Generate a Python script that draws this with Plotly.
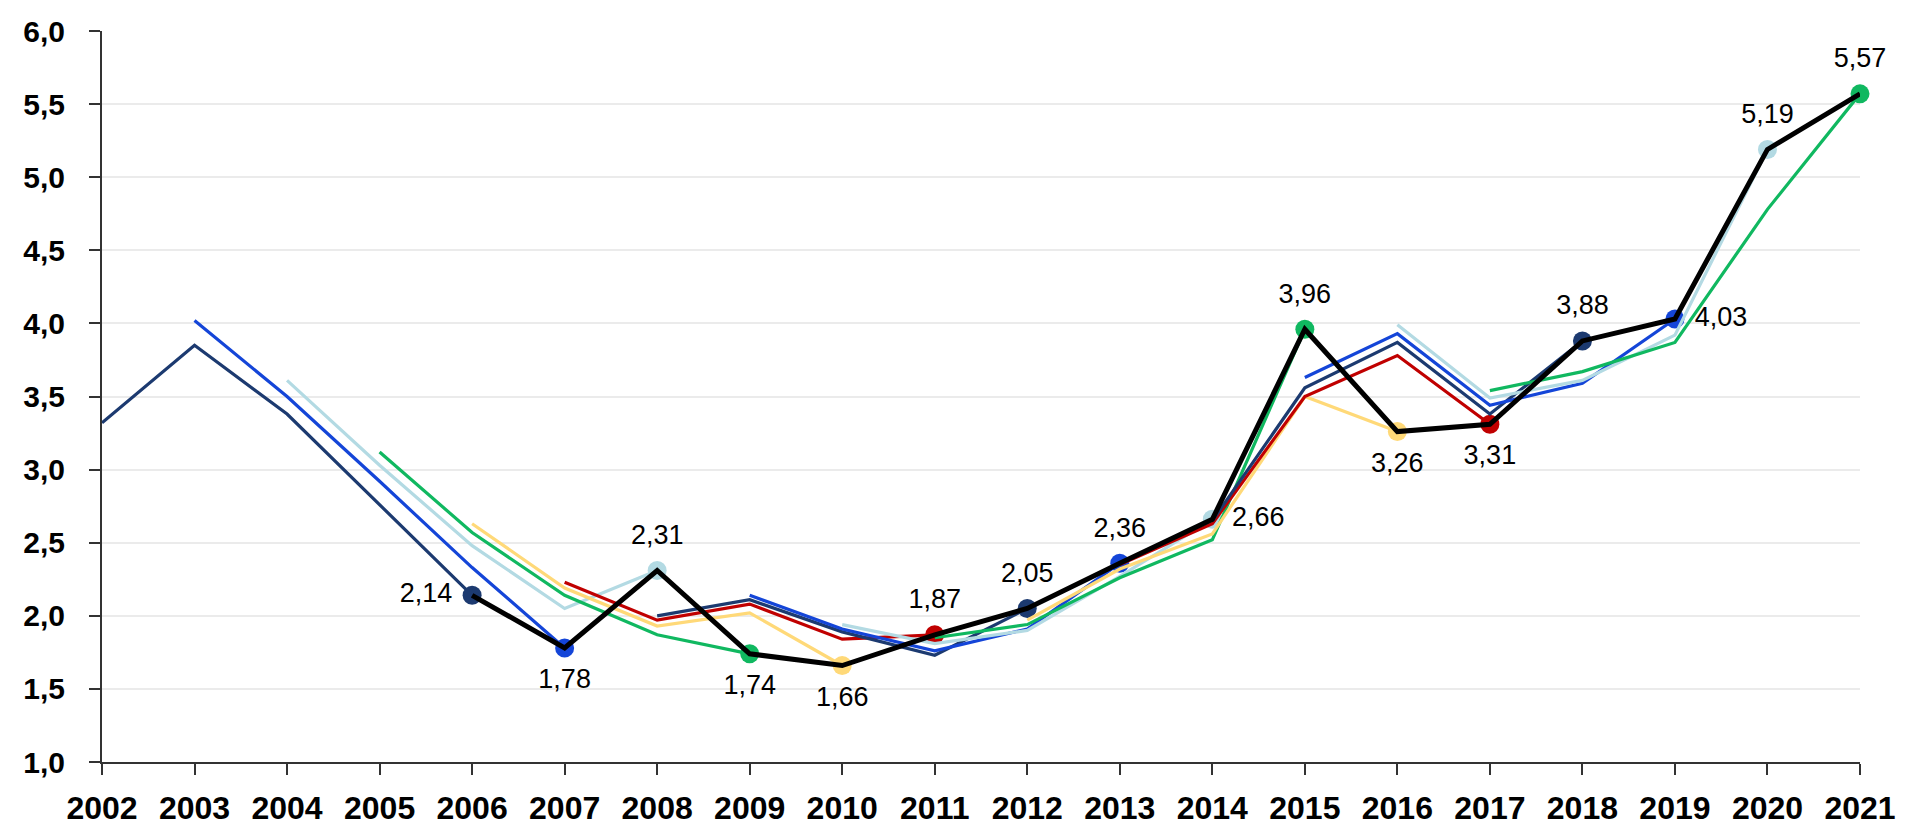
import plotly.graph_objects as go

years = list(range(2002, 2022))

# actual values (black line), 2006-2021
actual_years = list(range(2006, 2022))
actual = [2.14, 1.78, 2.31, 1.74, 1.66, 1.87, 2.05, 2.36,
          2.66, 3.96, 3.26, 3.31, 3.88, 4.03, 5.19, 5.57]

# forecast paths, each one covers the 4 years before the target year
fc_2006 = [3.32, 3.85, 3.38, 2.76, 2.14]
fc_2007 = [4.02, 3.50, 2.92, 2.33, 1.78]
fc_2008 = [3.61, 3.03, 2.48, 2.05, 2.31]
fc_2009 = [3.12, 2.57, 2.14, 1.87, 1.74]
fc_2010 = [2.63, 2.19, 1.93, 2.02, 1.66]
fc_2011 = [2.23, 1.97, 2.08, 1.84, 1.87]
fc_2012 = [2.00, 2.11, 1.89, 1.73, 2.05]
fc_2013 = [2.14, 1.91, 1.76, 1.91, 2.36]
fc_2014 = [1.94, 1.81, 1.90, 2.27, 2.66]
fc_2015 = [1.85, 1.94, 2.26, 2.52, 3.96]
fc_2016 = [1.97, 2.32, 2.56, 3.50, 3.26]
fc_2017 = [2.35, 2.63, 3.50, 3.78, 3.31]
fc_2018 = [2.65, 3.56, 3.87, 3.38, 3.88]
fc_2019 = [3.63, 3.93, 3.44, 3.59, 4.03]
fc_2020 = [3.99, 3.49, 3.61, 3.92, 5.19]
fc_2021 = [3.54, 3.67, 3.87, 4.78, 5.57]

forecasts = [fc_2006, fc_2007, fc_2008, fc_2009, fc_2010, fc_2011, fc_2012, fc_2013,
             fc_2014, fc_2015, fc_2016, fc_2017, fc_2018, fc_2019, fc_2020, fc_2021]

colors = ["#1C3A70", "#1445D8", "#B3DAE3", "#10B860", "#FFD978", "#C00000"]
label_pos = ["middle left", "bottom center", "top center", "bottom center",
             "bottom center", "top center", "top center", "top center",
             "middle right", "top center", "bottom center", "bottom center",
             "top center", "middle right", "top center", "top center"]

FONT = "Liberation Sans, Arial, sans-serif"

fig = go.Figure()

for i, vals in enumerate(forecasts):
    target = actual_years[i]
    xs = list(range(target - 4, target + 1))
    c = colors[i % len(colors)]
    fig.add_trace(go.Scatter(
        x=xs, y=vals, mode="lines+markers",
        line=dict(color=c, width=3.2),
        marker=dict(size=[0, 0, 0, 0, 19], color=c, opacity=1, line=dict(width=0)),
        cliponaxis=False, hoverinfo="skip"))

fig.add_trace(go.Scatter(
    x=actual_years, y=actual, mode="lines",
    line=dict(color="black", width=5),
    cliponaxis=False, hoverinfo="skip"))

fig.add_trace(go.Scatter(
    x=actual_years, y=actual, mode="markers+text",
    marker=dict(size=30, color="rgba(0,0,0,0)"),
    text=actual, texttemplate="%{y:.2f}", textposition=label_pos,
    textfont=dict(family=FONT, size=27, color="black"),
    cliponaxis=False, hoverinfo="skip"))

fig.update_layout(
    width=1920, height=824,
    margin=dict(l=94, r=68, t=23, b=70),
    paper_bgcolor="white", plot_bgcolor="white",
    showlegend=False, separators=",.",
    font=dict(family=FONT, color="black"),
)
fig.update_xaxes(
    range=[2002, 2021], tickmode="array", tickvals=years,
    ticktext=[str(y) for y in years], automargin=False,
    showgrid=False, zeroline=False,
    showline=True, linecolor="#333333", linewidth=2,
    ticks="outside", ticklen=11, tickcolor="#333333", tickwidth=2,
    tickfont=dict(family=FONT, size=32, weight="bold", color="black"),
    ticklabelstandoff=6,
)
fig.update_yaxes(
    range=[1, 6], dtick=0.5, tickformat=".1f", automargin=False,
    showgrid=True, gridcolor="#EBEBEB", gridwidth=1.5, zeroline=False,
    showline=True, linecolor="#333333", linewidth=2,
    ticks="outside", ticklen=11, tickcolor="#333333", tickwidth=2,
    tickfont=dict(family=FONT, size=30, weight="bold", color="black"),
    ticklabelstandoff=18,
)

fig.write_html("out.html")
